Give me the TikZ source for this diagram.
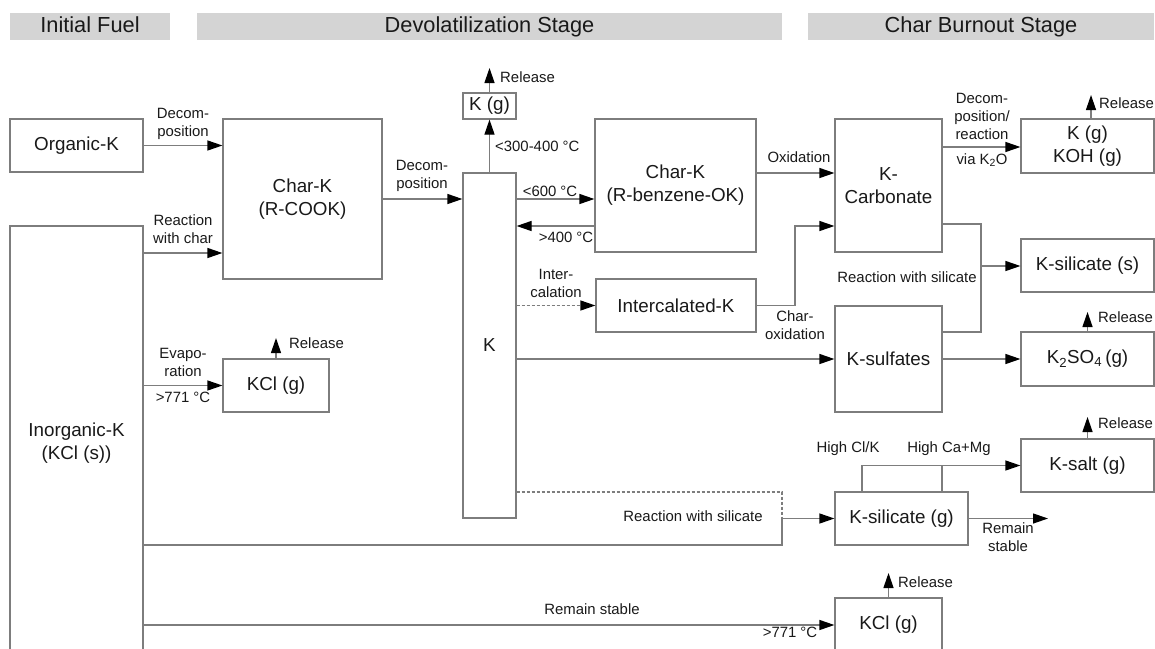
\documentclass[tikz,border=0pt]{standalone}
\usepackage{fontspec}
\setmainfont{Liberation Sans}
\usetikzlibrary{arrows.meta,calc}
\definecolor{lc}{RGB}{125,125,125}
\definecolor{tc}{RGB}{25,25,25}
\definecolor{hb}{RGB}{212,212,212}
\tikzset{
 box/.style={draw=lc, line width=1.2pt, inner sep=0pt, align=center, text=tc, font=\fontsize{18.8}{23}\selectfont},
 lbl/.style={inner sep=0pt, align=center, text=tc, font=\fontsize{14.9}{18}\selectfont},
 hdr/.style={fill=hb, inner sep=0pt, text=tc, minimum height=27pt, text height=15.5pt, text depth=4.5pt, font=\fontsize{21.8}{25}\selectfont},
 ln/.style={draw=lc, line width=1.2pt},
 arr/.style={ln, -{Triangle[length=15pt,width=10pt,color=black]}},
 dsh/.style={ln, dash pattern=on 3pt off 2pt}
}
\begin{document}
\begin{tikzpicture}[x=1pt,y=-1pt]
\useasboundingbox (0,0) rectangle (1155,648);
\clip (0,0) rectangle (1155,648);
% headers
\node[hdr, minimum width=160pt] (h1) at (90,26.5) {Initial Fuel};
\node[hdr, minimum width=585pt] (h2) at (489.5,26.5) {Devolatilization Stage};
\node[hdr, minimum width=346pt] (h3) at (981,26.5) {Char Burnout Stage};
% boxes
\node[box, minimum width=133pt, minimum height=53pt] (orgK) at (76.5,145.5) {Organic-K};
\node[box, minimum width=133pt, minimum height=434pt] (inorgK) at (76.5,443) {Inorganic-K\\(KCl (s))};
\node[box, minimum width=159pt, minimum height=160pt] (chark1) at (302.5,199) {Char-K\\(R-COOK)};
\node[box, minimum width=106pt, minimum height=53pt] (kcl1) at (276,385.5) {KCl (g)};
\node[box, minimum width=53pt, minimum height=26pt] (kg) at (489.5,106) {K (g)};
\node[box, minimum width=53pt, minimum height=345pt] (K) at (489.5,345.5) {\raisebox{-8pt}{K}};
\node[box, minimum width=161pt, minimum height=133pt] (chark2) at (675.5,185.5) {Char-K\\(R-benzene-OK)};
\node[box, minimum width=160pt, minimum height=53pt] (interK) at (676,305.5) {Intercalated-K};
\node[box, minimum width=107pt, minimum height=133pt] (kcarb) at (888.5,185.5) {K-\\Carbonate};
\node[box, minimum width=107pt, minimum height=106pt] (ksulf) at (888.5,359) {K-sulfates};
\node[box, minimum width=133pt, minimum height=54pt] (kkoh) at (1087.5,146) {K (g)\\KOH (g)};
\node[box, minimum width=133pt, minimum height=53pt] (ksils) at (1087.5,265.5) {K-silicate (s)};
\node[box, minimum width=133pt, minimum height=54pt] (k2so4) at (1087.5,359) {K\textsubscript{2}SO\textsubscript{4}\,(g)};
\node[box, minimum width=133pt, minimum height=53pt] (ksalt) at (1087.5,465.5) {K-salt (g)};
\node[box, minimum width=133pt, minimum height=53pt] (ksilg) at (901.5,518.5) {K-silicate (g)};
\node[box, minimum width=107pt, minimum height=54pt] (kcl2) at (888.5,625) {KCl (g)};
% helper coordinates
\coordinate (y253) at (0,253);
\coordinate (y199) at (0,199);
\coordinate (y226) at (0,226);
\coordinate (y173) at (0,173);
\coordinate (y147) at (0,147);
\coordinate (r1) at (276,338);
\coordinate (r2) at (489.5,68);
\coordinate (r3) at (1091,95);
\coordinate (r4) at (1087.5,312);
\coordinate (r5) at (1087.5,417);
\coordinate (r6) at (888.5,573);
\coordinate (c1) at (795,305.5);
\coordinate (c2) at (795,226);
\coordinate (s1) at (981,224);
\coordinate (s2) at (981,332);
\coordinate (s3) at (981,266);
\coordinate (d1) at (782,492);
\coordinate (d2) at (782,518.5);
\coordinate (e1) at (782,545);
\coordinate (f1) at (862,465.5);
\coordinate (f2) at (942,465.5);
\coordinate (g1) at (1048,518.5);
% connectors
\draw[arr] (orgK.east) -- (orgK.east -| chark1.west);
\draw[arr] (inorgK.east |- y253) -- (chark1.west |- y253);
\draw[arr] (inorgK.east |- kcl1.west) -- (kcl1.west);
\draw[arr] (kcl1.north) -- (r1);
\draw[arr] (chark1.east) -- (chark1.east -| K.west);
\draw[arr] (K.north) -- (kg.south);
\draw[arr] (kg.north) -- (r2);
\draw[arr] (K.east |- y199) -- (chark2.west |- y199);
\draw[arr] (chark2.west |- y226) -- (K.east |- y226);
\draw[arr, dash pattern=on 3pt off 2pt] (K.east |- interK.west) -- (interK.west);
\draw[arr] (K.east |- ksulf.west) -- (ksulf.west);
\draw[arr] (chark2.east |- y173) -- (kcarb.west |- y173);
\draw[arr] (interK.east) -- (c1) -- (c2) -- (kcarb.west |- c2);
\draw[arr] (kcarb.east |- y147) -- (kkoh.west |- y147);
\draw[arr] (kkoh.north -| r3) -- (r3);
\draw[ln] (kcarb.east |- s1) -- (s1) -- (s2) -- (ksulf.east |- s2);
\draw[arr] (s3) -- (ksils.west |- s3);
\draw[arr] (ksulf.east) -- (k2so4.west);
\draw[arr] (k2so4.north) -- (r4);
\draw[dsh] (K.east |- d1) -- (d1) -- (d2);
\draw[arr] (d2) -- (ksilg.west);
\draw[ln] (inorgK.east |- e1) -- (e1) -- (d2);
\draw[arr] (ksilg.north -| f1) -- (f1) -- (ksalt.west);
\draw[ln] (ksilg.north -| f2) -- (f2);
\draw[arr] (ksilg.east) -- (g1);
\draw[arr] (ksalt.north) -- (r5);
\draw[arr] (inorgK.east |- kcl2.west) -- (kcl2.west);
\draw[arr] (kcl2.north) -- (r6);
% labels
\node[lbl] (l1) at (183,124) {Decom-\\position};
\node[lbl] (l2) at (183,229) {Reaction\\with char};
\node[lbl] (l3) at (183,362) {Evapo-\\ration};
\node[lbl] (l4) at (183,397) {>771 °C};
\node[lbl, anchor=west] (l5) at (289,343) {Release};
\node[lbl] (l6) at (422,176) {Decom-\\position};
\node[lbl, anchor=west] (l7) at (495,146) {<300-400 °C};
\node[lbl, anchor=west] (l8) at (500,77) {Release};
\node[lbl] (l9) at (550,191) {<600 °C};
\node[lbl] (l10) at (566,237) {>400 °C};
\node[lbl] (l11) at (556,283) {Inter-\\calation};
\node[lbl] (l12) at (799,157) {Oxidation};
\node[lbl] (l13) at (795,325) {Char-\\oxidation};
\node[lbl] (l14) at (982,116) {Decom-\\position/\\reaction};
\node[lbl] (l15) at (982,160) {via K\textsubscript{2}O};
\node[lbl, anchor=west] (l16) at (1099,103) {Release};
\node[lbl] (l17) at (907,277) {Reaction with silicate};
\node[lbl, anchor=west] (l18) at (1098,317) {Release};
\node[lbl] (l19) at (693,516) {Reaction with silicate};
\node[lbl] (l20) at (848,449) {High Cl/K};
\node[lbl] (l21) at (949,449) {High Ca+Mg};
\node[lbl] (l22) at (1008,537) {Remain\\stable};
\node[lbl, anchor=west] (l23) at (1098,423) {Release};
\node[lbl] (l24) at (592,609) {Remain stable};
\node[lbl] (l25) at (790,632) {>771 °C};
\node[lbl, anchor=west] (l26) at (898,582) {Release};
\end{tikzpicture}
\end{document}
